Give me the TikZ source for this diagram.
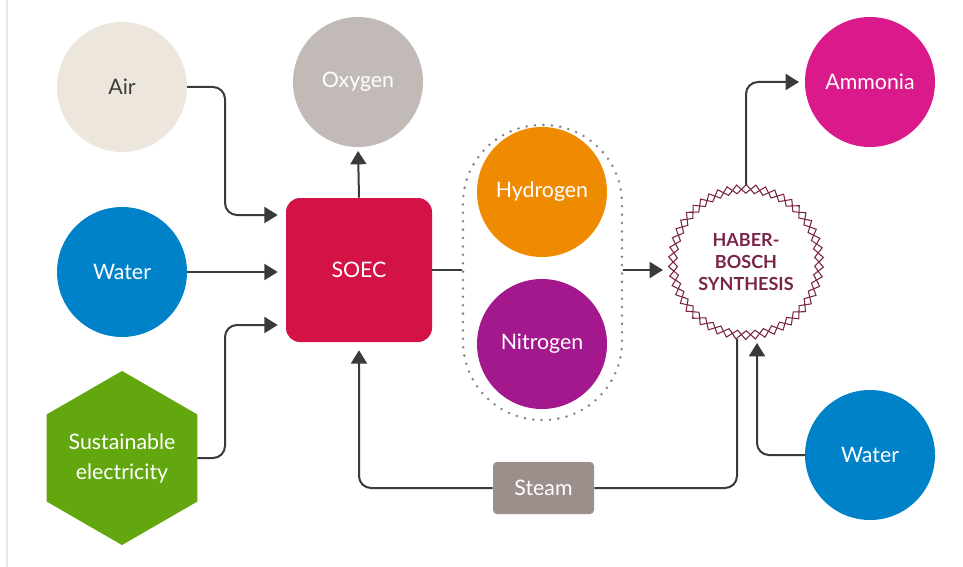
\documentclass[tikz,border=0pt]{standalone}
\usepackage{fontspec}
\setmainfont{Lato}
\usetikzlibrary{positioning,arrows.meta,shapes.geometric,decorations.pathmorphing}

\definecolor{airbeige}{HTML}{EDE6DD}
\definecolor{oxygray}{HTML}{C2BAB6}
\definecolor{waterblue}{HTML}{0082C9}
\definecolor{powergreen}{HTML}{63A70F}
\definecolor{soecred}{HTML}{D31245}
\definecolor{htwoorange}{HTML}{EE8B00}
\definecolor{ntwopurple}{HTML}{A4188E}
\definecolor{haberred}{HTML}{7A2448}
\definecolor{nhthree}{HTML}{DA1A8B}
\definecolor{steamgray}{HTML}{9A8F8A}
\definecolor{dotgray}{HTML}{8A8281}
\definecolor{linegray}{HTML}{3A3A3A}
\definecolor{textgray}{HTML}{3C3C3C}
\definecolor{borderbeige}{HTML}{EFE7E1}

\tikzset{
  bubble/.style={circle, minimum size=97.5pt, inner sep=0pt, outer sep=0pt,
    text=white, font=\fontsize{16}{19}\selectfont},
  hexa/.style={regular polygon, regular polygon sides=6, shape border rotate=30,
    minimum size=127.5pt, inner sep=0pt, outer sep=0pt, fill=powergreen,
    text=white, align=center, font=\fontsize{16}{22.5}\selectfont},
  soecbox/.style={rectangle, rounded corners=10.5pt, minimum width=109.5pt,
    minimum height=108pt, fill=soecred, text=white, font=\fontsize{16}{19}\selectfont},
  gasbox/.style={rectangle, rounded corners=59pt, minimum width=119.25pt,
    minimum height=221.25pt, draw=dotgray, line width=2.1pt,
    dash pattern=on 0pt off 6.3pt, line cap=round},
  haberring/.style={circle, minimum size=109.5pt, inner sep=0pt, outer sep=0pt,
    text=haberred, align=center, font=\bfseries\fontsize{13.5}{16.5}\selectfont,
    postaction={draw=haberred, line width=0.8pt, decorate,
      decoration={zigzag, segment length=13.76pt, amplitude=3.3pt}},
    postaction={draw=haberred, line width=0.8pt, decorate,
      decoration={zigzag, segment length=13.76pt, amplitude=-3.3pt}}},
  steambox/.style={rectangle, rounded corners=3pt, minimum width=75.75pt,
    minimum height=39pt, fill=steamgray, text=white, font=\fontsize{16}{19}\selectfont},
  flow/.style={draw=linegray, line width=1.5pt, rounded corners=9pt,
    -{Triangle[length=10pt,width=12pt]}},
  pipe/.style={draw=linegray, line width=1.5pt, rounded corners=9pt},
}

\begin{document}
\begin{tikzpicture}[x=0.75pt, y=-0.75pt]
    \useasboundingbox (0,0) rectangle (963,567);
    \draw[draw=borderbeige, line width=1.5pt] (7,0) -- (7,567);

    % Define nodes
    \node[bubble, fill=airbeige, text=textgray]	(air)		at (122,87)	{Air};
    \node[bubble, fill=oxygray]			(oxygen)	at (358,82)	{Oxygen};
    \node[bubble, fill=waterblue]		(water)		at (122,272)	{Water};
    \node[hexa]						(power)		at (122,458)	{Sustainable\\electricity};
    \node[soecbox]					(soec)		at (359,270)	{SOEC};
    \node[bubble, fill=htwoorange]		(hydrogen)	at (542,192)	{Hydrogen};
    \node[bubble, fill=ntwopurple]		(nitrogen)	at (542,344)	{Nitrogen};
    \node[gasbox]					(gases)		at (542.5,272.5) {};
    \node[haberring]				(haber)		at (746,262)	{HABER-\\BOSCH\\SYNTHESIS};
    \node[bubble, fill=nhthree]			(ammonia)	at (870,82)	{Ammonia};
    \node[bubble, fill=waterblue]		(water2)	at (870,455)	{Water};
    \node[steambox]					(steam)		at (543.5,488)	{Steam};

    % Connect nodes
    \draw[flow, shorten >=6pt] (air.east) -| (225,215) -- (soec.west |- 225,215);
    \draw[flow, shorten >=6pt] (water.east) -- (soec.west |- water.east);
    \draw[flow, shorten >=6pt] (power.east) -| (225,325) -- (soec.west |- 225,325);
    \draw[flow, shorten >=3pt] (soec.north) -- (oxygen.south);
    \draw[pipe] (soec.east) -- (gases.west |- soec.east);
    \draw[flow, shorten >=7.5pt] (gases.east |- soec.east) -- (haber.west |- soec.east);
    \draw[flow, shorten >=4.5pt] ([yshift=3pt]haber.north) |- (ammonia.west);
    \draw[flow, shorten >=6pt] (water2.west) -| ([xshift=8.25pt]haber.south);
    \draw[pipe] ([xshift=-6.75pt, yshift=-3pt]haber.south) |- (steam.east);
    \draw[flow, shorten >=6pt] (steam.west) -| (soec.south);
\end{tikzpicture}
\end{document}
